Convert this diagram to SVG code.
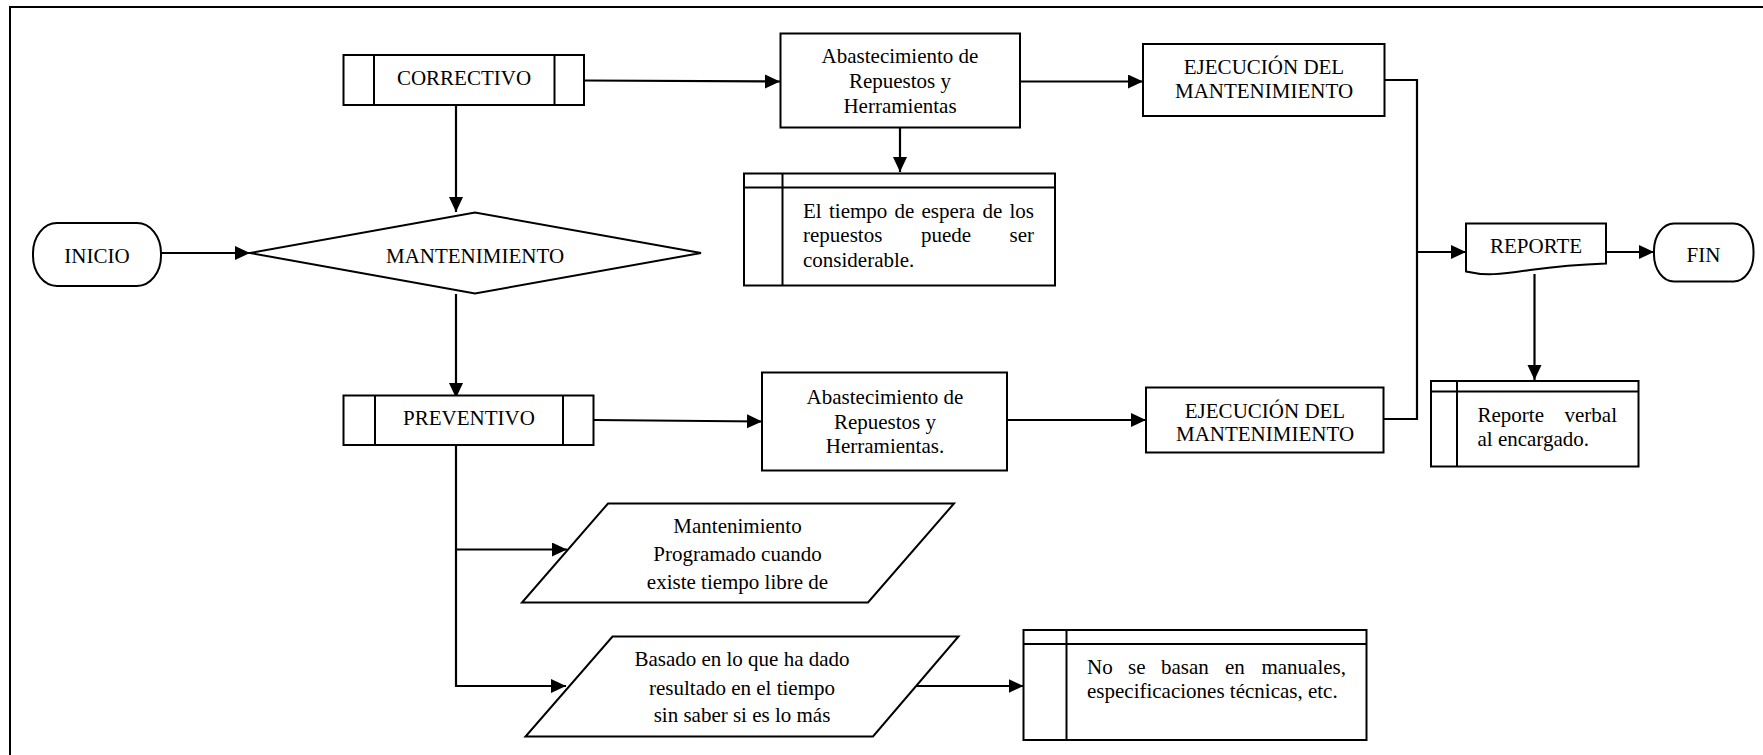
<svg xmlns="http://www.w3.org/2000/svg" width="1763" height="755" viewBox="0 0 1763 755">
  <style>
    .shape { fill: #ffffff; stroke: #000000; stroke-width: 2; }
    .rule { fill: none; stroke: #000000; stroke-width: 2; }
    .wire { fill: none; stroke: #000000; stroke-width: 2.2; }
    .lbl { font-family: "Liberation Serif", "Times New Roman", serif; font-size: 21px; fill: #000000; }
    .mid { text-anchor: middle; }
    .end { text-anchor: end; }
  </style>
  <defs>
    <marker id="ah" markerUnits="userSpaceOnUse" markerWidth="16" markerHeight="15" refX="15" refY="7" orient="auto">
      <path d="M0,0 L15,7 L0,14 z" fill="#000000"/>
    </marker>
  </defs>

  <rect x="0" y="0" width="1763" height="755" fill="#ffffff"/>
  <!-- page frame (only top and left edges fall inside the sheet) -->
  <path class="rule" d="M10,800 V7 H1800"/>

  <!-- connectors -->
  <g id="connectors">
    <line class="wire" x1="161" y1="253" x2="250" y2="253" marker-end="url(#ah)"/>
    <line class="wire" x1="456" y1="105" x2="456" y2="212" marker-end="url(#ah)"/>
    <line class="wire" x1="456" y1="294" x2="456" y2="398" marker-end="url(#ah)"/>
    <line class="wire" x1="584" y1="80.5" x2="780" y2="81.5" marker-end="url(#ah)"/>
    <line class="wire" x1="1020" y1="81.5" x2="1143" y2="81.5" marker-end="url(#ah)"/>
    <line class="wire" x1="900" y1="128" x2="900" y2="172" marker-end="url(#ah)"/>
    <polyline class="wire" points="1385,80 1417,80 1417,419 1384,419"/>
    <line class="wire" x1="1417" y1="252" x2="1466" y2="252" marker-end="url(#ah)"/>
    <line class="wire" x1="1606" y1="252" x2="1654" y2="252" marker-end="url(#ah)"/>
    <line class="wire" x1="1534.5" y1="274" x2="1534.5" y2="380" marker-end="url(#ah)"/>
    <line class="wire" x1="594" y1="420" x2="762" y2="421.5" marker-end="url(#ah)"/>
    <line class="wire" x1="1007" y1="420" x2="1146" y2="420" marker-end="url(#ah)"/>
    <polyline class="wire" points="456,445 456,686 566,686" marker-end="url(#ah)"/>
    <line class="wire" x1="456" y1="549.5" x2="567" y2="549.5" marker-end="url(#ah)"/>
    <line class="wire" x1="916" y1="686" x2="1023.5" y2="686" marker-end="url(#ah)"/>
  </g>

  <g id="inicio">
    <rect class="shape" x="33" y="223" width="128" height="63" rx="24" ry="30"/>
    <text class="lbl mid" x="97" y="263">INICIO</text>
  </g>

  <g id="mantenimiento">
    <polygon class="shape" points="250,253 475,212.5 701,253 475,293.5"/>
    <text class="lbl mid" x="475" y="263">MANTENIMIENTO</text>
  </g>

  <g id="correctivo">
    <rect class="shape" x="343.5" y="55" width="240.5" height="50"/>
    <line class="rule" x1="374" y1="55" x2="374" y2="105"/>
    <line class="rule" x1="554.5" y1="55" x2="554.5" y2="105"/>
    <text class="lbl mid" x="464" y="85">CORRECTIVO</text>
  </g>

  <g id="abastecimiento-correctivo">
    <rect class="shape" x="780.5" y="33.5" width="239.5" height="94"/>
    <text class="lbl mid" x="900" y="63">Abastecimiento de</text>
    <text class="lbl mid" x="900" y="88">Repuestos y</text>
    <text class="lbl mid" x="900" y="112.5">Herramientas</text>
  </g>

  <g id="ejecucion-correctivo">
    <rect class="shape" x="1143" y="44" width="241.5" height="72"/>
    <text class="lbl mid" x="1264" y="74">EJECUCIÓN DEL</text>
    <text class="lbl mid" x="1264" y="97.5">MANTENIMIENTO</text>
  </g>

  <g id="nota-espera">
    <rect class="shape" x="744" y="173.5" width="311" height="112"/>
    <line class="rule" x1="744" y1="187.5" x2="1055" y2="187.5"/>
    <line class="rule" x1="782.5" y1="173.5" x2="782.5" y2="285.5"/>
    <text class="lbl" y="217.5"><tspan x="803">El</tspan><tspan x="829">tiempo</tspan><tspan x="894.5">de</tspan><tspan x="921.5">espera</tspan><tspan x="982.5">de</tspan><tspan x="1009.5">los</tspan></text>
    <text class="lbl" y="242"><tspan x="803">repuestos</tspan><tspan x="921">puede</tspan></text>
    <text class="lbl end" x="1034" y="242">ser</text>
    <text class="lbl" x="803" y="266.5">considerable.</text>
  </g>

  <g id="reporte">
    <path class="shape" d="M1466,223.5 H1606 V263.5 C1580,264.5 1560,266 1530,270 C1500,274.5 1485,276 1466,271.5 Z"/>
    <text class="lbl mid" x="1536" y="252.5">REPORTE</text>
  </g>

  <g id="fin">
    <rect class="shape" x="1654" y="223.5" width="99.5" height="58" rx="20" ry="27"/>
    <text class="lbl mid" x="1703.5" y="261.5">FIN</text>
  </g>

  <g id="nota-reporte">
    <rect class="shape" x="1431" y="381" width="207.5" height="85.5"/>
    <line class="rule" x1="1431" y1="391.5" x2="1638.5" y2="391.5"/>
    <line class="rule" x1="1457" y1="381" x2="1457" y2="466.5"/>
    <text class="lbl" x="1477.5" y="421.5">Reporte</text>
    <text class="lbl end" x="1617" y="421.5">verbal</text>
    <text class="lbl" x="1477.5" y="446">al encargado.</text>
  </g>

  <g id="preventivo">
    <rect class="shape" x="343.5" y="395.5" width="250" height="49.5"/>
    <line class="rule" x1="375" y1="395.5" x2="375" y2="445"/>
    <line class="rule" x1="563" y1="395.5" x2="563" y2="445"/>
    <text class="lbl mid" x="469" y="424.5">PREVENTIVO</text>
  </g>

  <g id="abastecimiento-preventivo">
    <rect class="shape" x="762" y="372.5" width="245" height="98"/>
    <text class="lbl mid" x="885" y="403.5">Abastecimiento de</text>
    <text class="lbl mid" x="885" y="428.5">Repuestos y</text>
    <text class="lbl mid" x="885" y="452.5">Herramientas.</text>
  </g>

  <g id="ejecucion-preventivo">
    <rect class="shape" x="1146" y="387.5" width="237.5" height="65"/>
    <text class="lbl mid" x="1265" y="417.5">EJECUCIÓN DEL</text>
    <text class="lbl mid" x="1265" y="441">MANTENIMIENTO</text>
  </g>

  <g id="programado">
    <polygon class="shape" points="608,503.5 954,503.5 868,602.5 522,602.5"/>
    <text class="lbl mid" x="737.5" y="532.5">Mantenimiento</text>
    <text class="lbl mid" x="737.5" y="561">Programado cuando</text>
    <text class="lbl mid" x="737.5" y="588.5">existe tiempo libre de</text>
  </g>

  <g id="basado">
    <polygon class="shape" points="612.5,636.5 958.5,636.5 873,736.5 525.5,736.5"/>
    <text class="lbl mid" x="742" y="666">Basado en lo que ha dado</text>
    <text class="lbl mid" x="742" y="694.5">resultado en el tiempo</text>
    <text class="lbl mid" x="742" y="721.5">sin saber si es lo más</text>
  </g>

  <g id="nota-manuales">
    <rect class="shape" x="1023.5" y="630" width="343" height="110"/>
    <line class="rule" x1="1023.5" y1="644" x2="1366.5" y2="644"/>
    <line class="rule" x1="1066.5" y1="630" x2="1066.5" y2="740"/>
    <text class="lbl" y="673.5"><tspan x="1087">No</tspan><tspan x="1128">se</tspan><tspan x="1161">basan</tspan><tspan x="1225">en</tspan></text>
    <text class="lbl end" x="1346" y="673.5">manuales,</text>
    <text class="lbl" x="1087" y="697.5">especificaciones técnicas, etc.</text>
  </g>
</svg>
